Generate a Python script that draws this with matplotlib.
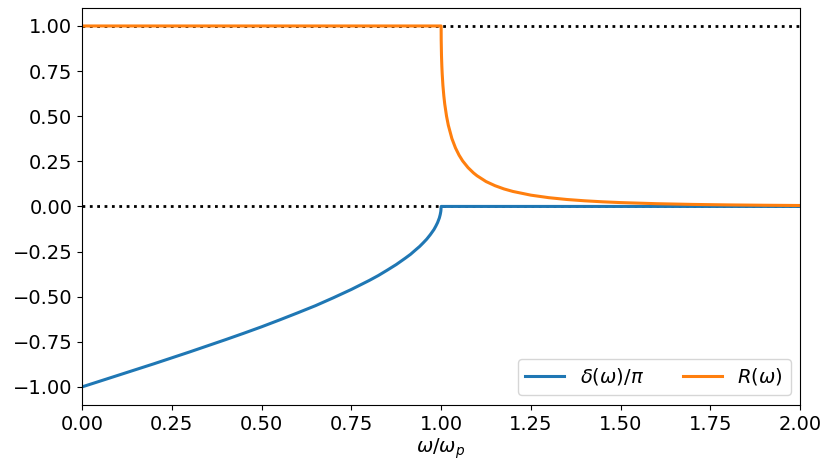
import numpy as np
import matplotlib.pyplot as plt

# omega / omega_p sample points
w_delta = [0.0, 0.05, 0.1, 0.15, 0.2, 0.25, 0.3, 0.35, 0.4, 0.45, 0.5, 0.55,
           0.6, 0.65, 0.7, 0.75, 0.8, 0.825, 0.85, 0.875, 0.9, 0.915, 0.93,
           0.94, 0.95, 0.96, 0.97, 0.98, 0.985, 0.99, 0.995, 0.9975, 0.999,
           0.9995, 1.0, 1.5, 2.0]
delta = [-1.0, -0.968, -0.936, -0.904, -0.872, -0.839, -0.806, -0.772,
         -0.738, -0.703, -0.667, -0.629, -0.590, -0.550, -0.506, -0.460,
         -0.410, -0.383, -0.353, -0.322, -0.287, -0.265, -0.239, -0.222,
         -0.202, -0.181, -0.156, -0.128, -0.110, -0.090, -0.064, -0.045,
         -0.029, -0.020, 0.0, 0.0, 0.0]

w_R = [0.0, 0.5, 1.0, 1.0002, 1.001, 1.002, 1.003, 1.005, 1.0075, 1.01,
       1.015, 1.02, 1.03, 1.04, 1.05, 1.06, 1.075, 1.09, 1.1, 1.125, 1.15,
       1.175, 1.2, 1.25, 1.3, 1.35, 1.4, 1.45, 1.5, 1.6, 1.7, 1.8, 1.9, 2.0]
R = [1.0, 1.0, 1.0, 0.923, 0.836, 0.777, 0.734, 0.670, 0.613, 0.568,
     0.501, 0.450, 0.376, 0.324, 0.284, 0.252, 0.215, 0.186, 0.170, 0.138,
     0.115, 0.097, 0.083, 0.0625, 0.0485, 0.0385, 0.0312, 0.0256, 0.0213,
     0.0152, 0.0112, 0.0085, 0.0066, 0.0052]

plt.rcParams['font.size'] = 14

fig, ax = plt.subplots(figsize=(8.25, 4.66), dpi=100)
fig.subplots_adjust(left=0.0994, right=0.970, top=0.983, bottom=0.131)

ax.plot([0, 2], [0, 0], 'k:', lw=2)
ax.plot([0, 2], [1, 1], 'k:', lw=2)
ax.plot(w_delta, delta, lw=2.2, label=r'$\delta(\omega)/\pi$')
ax.plot(w_R, R, lw=2.2, label=r'$R(\omega)$')

ax.set_xlim(0, 2)
ax.set_ylim(-1.1, 1.1)
ax.set_yticks(np.arange(-1, 1.01, 0.25))
ax.set_xlabel(r'$\omega/\omega_p$', labelpad=2)
ax.legend(loc='lower right', ncol=2)

fig.savefig('out.png')
